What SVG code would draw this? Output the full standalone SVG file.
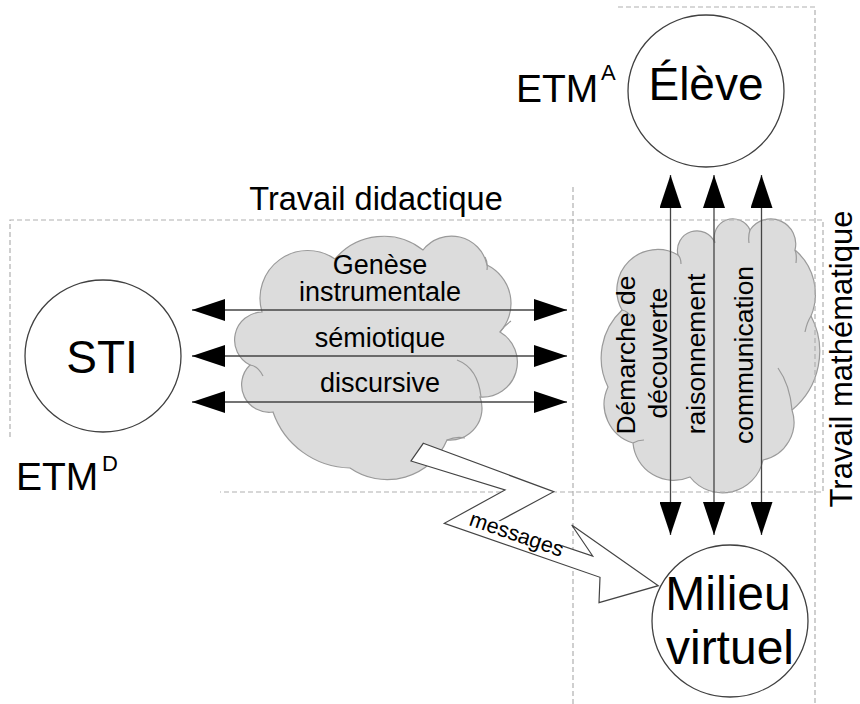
<svg xmlns="http://www.w3.org/2000/svg" width="860" height="704" viewBox="0 0 860 704">
<style>
.t{font-family:"Liberation Sans",Arial,sans-serif;fill:#000}
.cloud{fill:#dcdcdc;stroke:#9a9a9a;stroke-width:1.2}
.inner{fill:none;stroke:#9a9a9a;stroke-width:1.2}
.frame{fill:none;stroke:#b0b0b0;stroke-width:1.2;stroke-dasharray:5 3}
.node{fill:#fff;stroke:#404040;stroke-width:1.3}
.conn{stroke:#444;stroke-width:1.3;fill:none}
.bolt{fill:#fff;stroke:#444;stroke-width:1.2;stroke-linejoin:miter}
</style>
<defs>
<marker id="ah" viewBox="0 0 33 22" refX="33" refY="11" markerWidth="33" markerHeight="22" markerUnits="userSpaceOnUse" orient="auto-start-reverse">
<path d="M0,0 L33,11 L0,22 Z" fill="#000"/>
</marker>
</defs>
<rect width="860" height="704" fill="#fff"/>

<g id="cloud-didactique">
<path class="cloud" d="M262,312 A47.8,47.8 0 0 1 335,259 A63.4,63.4 0 0 1 423,250 A36.2,36.2 0 0 1 487,265 A42.7,42.7 0 0 1 500,332 A34.9,34.9 0 0 1 480,397 A32,32 0 0 1 447,440 A65,65 0 0 1 350,468 A83,83 0 0 1 273,412 A27.5,27.5 0 0 1 250,365 A28,28 0 0 1 262,312 Z"/>
<path class="inner" d="M457,360 Q478,368 481,397 M250,365 Q258,366 263,376 M485,257 Q488,262 487,270 M500,332 Q505,325 511,321 M447,440 Q456,436 465,438"/>
</g>

<g id="cloud-mathematique">
<path class="cloud" d="M622,310 A40.7,40.7 0 0 1 678,255 A19.5,19.5 0 0 1 715,243 A18.7,18.7 0 0 1 750,230 A25,25 0 0 1 795,250 A57.6,57.6 0 0 1 811,316 A76,76 0 0 1 792,410 A38.6,38.6 0 0 1 763,460 A41.3,41.3 0 0 1 690,477 A40.9,40.9 0 0 1 633,443 A40.5,40.5 0 0 1 608,387 A65.5,65.5 0 0 1 622,310 Z"/>
<path class="inner" d="M795,250 Q797,255 796,263 M811,316 Q807,322 805,332 M778,368 Q790,385 792,410 M678,255 Q681,258 681,264 M750,230 Q748,236 749,243 M622,310 Q628,311 632,318 M633,443 Q638,440 644,440"/>
</g>

<g id="frames">
<path class="frame" d="M618,7 H815 V704"/>
<path class="frame" d="M10,437 V220 H823 V492 H220"/>
<path class="frame" d="M573,187 V704"/>
</g>

<g id="connectors">
<g id="arrows-didactique">
<line class="conn" x1="192" y1="310" x2="567" y2="310" marker-start="url(#ah)" marker-end="url(#ah)"/>
<line class="conn" x1="192" y1="356" x2="567" y2="356" marker-start="url(#ah)" marker-end="url(#ah)"/>
<line class="conn" x1="192" y1="402" x2="567" y2="402" marker-start="url(#ah)" marker-end="url(#ah)"/>
</g>
<g id="arrows-mathematique">
<line class="conn" x1="670.5" y1="175" x2="670.5" y2="535" marker-start="url(#ah)" marker-end="url(#ah)"/>
<line class="conn" x1="714" y1="175" x2="714" y2="535" marker-start="url(#ah)" marker-end="url(#ah)"/>
<line class="conn" x1="761.5" y1="175" x2="761.5" y2="535" marker-start="url(#ah)" marker-end="url(#ah)"/>
</g>
<g id="messages">
<polygon class="bolt" points="423.3,443.3 553.7,491.7 495,523.3 592.7,556 571.7,525 658.3,585.7 599,602.7 600,577.3 444.3,523.3 505,490 411,461"/>
<g transform="translate(468,525) rotate(19)">
<rect x="-1" y="-14" width="96" height="13.5" fill="#fff"/>
<text class="t" x="0" y="0" font-size="21.5">messages</text>
</g>
</g>
</g>

<g id="cloud-labels">
<text class="t" font-size="27" text-anchor="middle" x="380" y="274">Genèse</text>
<text class="t" font-size="27" text-anchor="middle" x="380" y="301">instrumentale</text>
<text class="t" font-size="27" text-anchor="middle" x="380" y="347">sémiotique</text>
<text class="t" font-size="27" text-anchor="middle" x="380" y="392">discursive</text>
<text class="t" font-size="26.5" text-anchor="middle" transform="translate(635,355) rotate(-90)">Démarche de</text>
<text class="t" font-size="26.5" text-anchor="middle" transform="translate(667,353) rotate(-90)">découverte</text>
<text class="t" font-size="26.5" text-anchor="middle" transform="translate(705,354) rotate(-90)">raisonnement</text>
<text class="t" font-size="26.5" text-anchor="middle" transform="translate(753,355) rotate(-90)">communication</text>
</g>

<g id="node-sti">
<ellipse class="node" cx="103" cy="356" rx="78" ry="76"/>
<text class="t" font-size="46" text-anchor="middle" x="102" y="373">STI</text>
</g>
<g id="node-eleve">
<ellipse class="node" cx="706" cy="91" rx="78" ry="76"/>
<text class="t" font-size="46" text-anchor="middle" x="706" y="100">Élève</text>
</g>
<g id="node-milieu">
<ellipse class="node" cx="730" cy="621" rx="78" ry="76"/>
<text class="t" font-size="48" text-anchor="middle" x="728" y="610">Milieu</text>
<text class="t" font-size="48" text-anchor="middle" x="730" y="664">virtuel</text>
</g>

<g id="labels">
<text class="t" font-size="39" x="516" y="102">ETM<tspan x="601" y="80" font-size="22">A</tspan></text>
<text class="t" font-size="39" x="16" y="490">ETM<tspan x="102" y="471" font-size="22">D</tspan></text>
<text class="t" font-size="32.5" text-anchor="middle" x="376" y="210">Travail didactique</text>
<text class="t" font-size="31" text-anchor="middle" transform="translate(852,359) rotate(-90)">Travail mathématique</text>
</g>
</svg>
